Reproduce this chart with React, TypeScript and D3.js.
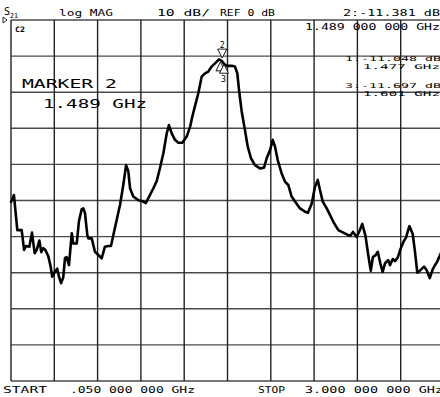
import React from "react";
import * as d3 from "d3";

const freqGHz = [
  0.05, 0.07, 0.093, 0.123, 0.139, 0.152, 0.175, 0.193, 0.211, 0.225, 0.243, 0.256, 0.27, 0.284, 0.304,
  0.32, 0.331, 0.35, 0.365, 0.377, 0.391, 0.406, 0.418, 0.429, 0.445, 0.464, 0.474, 0.498, 0.513, 0.532,
  0.543, 0.554, 0.57, 0.577, 0.6, 0.622, 0.645, 0.668, 0.69, 0.713, 0.731, 0.747, 0.77, 0.793, 0.815,
  0.834, 0.849, 0.861, 0.883, 0.917, 0.951, 0.968, 0.985, 1.02, 1.043, 1.065, 1.088, 1.111, 1.126, 1.145,
  1.167, 1.19, 1.217, 1.247, 1.27, 1.285, 1.304, 1.326, 1.349, 1.372, 1.394, 1.417, 1.445, 1.467, 1.485,
  1.503, 1.52, 1.554, 1.576, 1.592, 1.606, 1.622, 1.644, 1.663, 1.685, 1.712, 1.746, 1.774, 1.792, 1.815,
  1.833, 1.849, 1.867, 1.894, 1.917, 1.939, 1.962, 1.985, 2.019, 2.053, 2.073, 2.099, 2.121, 2.14, 2.155,
  2.174, 2.201, 2.223, 2.246, 2.28, 2.314, 2.348, 2.36, 2.38, 2.405, 2.423, 2.443, 2.465, 2.484, 2.501,
  2.516, 2.533, 2.549, 2.566, 2.582, 2.598, 2.619, 2.632, 2.651, 2.666, 2.685, 2.704, 2.724, 2.741, 2.764,
  2.787, 2.802, 2.818, 2.839, 2.864, 2.882, 2.903, 2.923, 2.937, 2.953, 2.973, 3.0,
];
const magDB = [
  -50.4, -48.5, -58.2, -58.2, -63.7, -62.6, -62.8, -58.9, -64.6, -63.7, -61.1, -64.3, -63.2, -63.7, -65.4,
  -68.3, -71.1, -69.7, -68.9, -71.1, -72.9, -71.3, -65.9, -65.7, -67.9, -59.1, -61.9, -61.9, -55.7, -52.4,
  -52.2, -53.5, -59.6, -60.5, -60.5, -64.2, -65.1, -66.0, -62.8, -62.6, -62.6, -59.6, -55.4, -51.2, -45.7,
  -40.2, -41.8, -46.6, -48.9, -49.9, -50.3, -50.7, -49.4, -46.6, -44.6, -41.0, -36.9, -31.4, -29.1, -31.4,
  -33.2, -34.0, -34.0, -32.3, -29.6, -26.8, -23.8, -20.3, -15.7, -14.8, -14.3, -12.9, -11.8, -10.9, -11.3,
  -12.2, -12.7, -12.7, -12.9, -14.8, -20.3, -25.4, -30.5, -35.1, -38.3, -40.2, -41.1, -40.9, -38.3, -36.0,
  -33.2, -35.1, -38.8, -42.5, -44.8, -45.7, -48.9, -50.3, -52.2, -53.1, -53.4, -50.8, -46.2, -44.3, -47.1,
  -50.3, -52.2, -54.0, -55.9, -58.2, -58.9, -59.6, -59.8, -58.7, -60.1, -58.6, -56.5, -59.8, -65.1, -69.5,
  -65.6, -65.2, -64.2, -67.4, -69.8, -67.4, -66.5, -67.9, -66.2, -66.8, -65.8, -63.4, -61.4, -60.3, -57.1,
  -59.3, -64.1, -70.0, -69.3, -68.3, -69.3, -71.5, -69.1, -68.0, -67.0, -65.1, -62.8,
];

const xDivisions = [0, 1, 2, 3, 4, 5, 6, 7, 8, 9, 10];
const yDivisions = [0, 1, 2, 3, 4, 5, 6, 7, 8, 9, 10];

const markerIds = ["1", "2", "3"];
const markerFreq = [1.477, 1.489, 1.501];
const markerDB = [-11.048, -11.381, -11.697];

const FONT = "'DejaVu Sans Mono', monospace";

export default function App() {
  const x = d3.scaleLinear().domain([0.05, 3.0]).range([11, 444]);
  const y = d3.scaleLinear().domain([0, -100]).range([20, 381]);
  const divX = d3.scaleLinear().domain([0, 10]).range([11, 444]);
  const divY = d3.scaleLinear().domain([0, 10]).range([20, 381]);

  const pts: [number, number][] = freqGHz.map((f, i) => [f, magDB[i]]);
  const line = d3
    .line<[number, number]>()
    .x((d) => x(d[0]))
    .y((d) => y(d[1]))
    .curve(d3.curveLinear);

  const T = (
    txt: string,
    xx: number,
    yy: number,
    len: number,
    size: number,
    extra: any = {}
  ) => (
    <text
      x={xx}
      y={yy}
      fontFamily={FONT}
      fontSize={size}
      textLength={len}
      lengthAdjust="spacingAndGlyphs"
      fill="#000"
      {...extra}
    >
      {txt}
    </text>
  );

  const m2x = x(markerFreq[1]);
  const m2y = y(markerDB[1]);

  return (
    <svg
      width={440}
      height={397}
      style={{ position: "absolute", left: 0, top: 0, background: "#fff" }}
    >
      <rect x={0} y={0} width={440} height={397} fill="#fff" />
      <g>
        {yDivisions.map((d) => (
          <line
            key={"h" + d}
            x1={11}
            x2={444}
            y1={divY(d)}
            y2={divY(d)}
            stroke="#4a4a4a"
            strokeWidth={1.4}
          />
        ))}
        {xDivisions.map((d) => (
          <line
            key={"v" + d}
            x1={divX(d)}
            x2={divX(d)}
            y1={20}
            y2={381}
            stroke="#222"
            strokeWidth={1.4}
          />
        ))}
      </g>

      <path
        d={line(pts) || ""}
        fill="none"
        stroke="#000"
        strokeWidth={2.6}
        strokeLinejoin="round"
        strokeLinecap="round"
      />

      <path
        d={`M${m2x - 4.5},${m2y - 12} L${m2x + 4.5},${m2y - 12} L${m2x},${m2y - 3} Z`}
        fill="#fff"
        stroke="#000"
        strokeWidth={0.9}
      />
      {T(markerIds[1], m2x - 2.5, m2y - 13, 5, 8)}
      {[0, 2].map((i) => {
        const mx = x(markerFreq[i]);
        const my = y(markerDB[i]);
        return (
          <path
            key={"m" + i}
            d={`M${mx},${my + 2} L${mx + 4.5},${my + 11} L${mx - 4.5},${my + 11} Z`}
            fill="#fff"
            stroke="#000"
            strokeWidth={0.9}
          />
        );
      })}
      {T(markerIds[2], x(markerFreq[2]) - 3, y(markerDB[2]) + 20, 5, 8)}

      <path d="M3,17 L7,20 L3,23 Z" fill="#fff" stroke="#000" strokeWidth={0.8} />

      {T("S", 4, 15, 6, 10)}
      {T("21", 10, 18, 8, 7)}
      {T("log MAG", 59, 16, 54, 9)}
      {T("10 dB/", 157, 16, 53, 9)}
      {T("REF 0 dB", 220, 16, 55, 9)}
      {T("2:-11.381 dB", 343, 16, 97, 9)}

      {T("C2", 15, 32, 10, 7.5, { fontWeight: "bold" })}
      {T("1.489 000 000 GHz", 305, 30, 135, 8.5)}

      {T("1:-11.048 dB", 345, 61, 96, 6.5)}
      {T("1.477 GHz", 363, 69, 77, 6.5)}
      {T("3:-11.697 dB", 345, 87.5, 96, 6.5)}
      {T("1.601 GHz", 363, 95.5, 77, 6.5)}

      {T("MARKER 2", 22, 88, 95, 12.5)}
      {T("1.489 GHz", 43, 108, 104, 12.5)}

      {T("START", 3, 393, 44, 8.5)}
      {T(".050 000 000 GHz", 70, 393, 125, 8.5)}
      {T("STOP", 258, 393, 27, 8.5)}
      {T("3.000 000 000 GHz", 305, 393, 138, 8.5)}
    </svg>
  );
}
